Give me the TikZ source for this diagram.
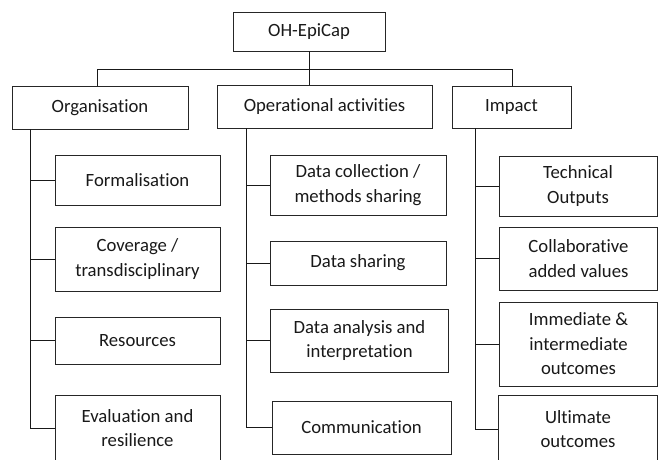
\documentclass[tikz,border=0pt]{standalone}
\usepackage{fontspec}
\setmainfont{Carlito}[Ligatures={NoCommon,NoContextual}]
\begin{document}
\begin{tikzpicture}[x=1pt,y=-1pt,
    box/.style={draw=black!85,line width=0.9pt,fill=white,align=center,inner sep=0pt,
      text=black!90,font=\fontsize{18.7}{24.5}\selectfont},
    link/.style={draw=black!90,line width=0.8pt}]
  \useasboundingbox (0,0) rectangle (659,459);
  \clip (0,0) rectangle (659,459);
  % top and the three headings
  \node[box,minimum width=152,minimum height=39] (top) at (309,31.5) {OH-EpiCap};
  \node[box,minimum width=176,minimum height=43] (org) at (100,107.5) {Organisation};
  \node[box,minimum width=215,minimum height=43] (ops) at (324.5,106.5) {Operational activities};
  \node[box,minimum width=119,minimum height=42] (imp) at (511.5,107) {Impact};
  % Organisation
  \node[box,minimum width=165,minimum height=50] (formal) at (137.5,180) {Formalisation};
  \node[box,minimum width=165,minimum height=64] (cover) at (137.5,259) {Coverage /\\transdisciplinary};
  \node[box,minimum width=165,minimum height=47] (resources) at (137.5,340.5) {Resources};
  \node[box,minimum width=165,minimum height=66] (evalres) at (137.5,428) {Evaluation and\\resilience};
  % Operational activities
  \node[box,minimum width=176,minimum height=60] (collect) at (358,185) {Data collection /\\methods sharing};
  \node[box,minimum width=176,minimum height=44] (sharing) at (358,263) {Data sharing};
  \node[box,minimum width=178,minimum height=63] (analysis) at (359.5,340.5) {Data analysis and\\interpretation};
  \node[box,minimum width=179,minimum height=53] (commun) at (361.5,427.5) {Communication};
  % Impact
  \node[box,minimum width=158,minimum height=60] (tech) at (578,186) {Technical\\Outputs};
  \node[box,minimum width=158,minimum height=63] (collab) at (578.5,258.5) {Collaborative\\added values};
  \node[box,minimum width=158,minimum height=84] (immed) at (578.5,344) {Immediate \&\\intermediate\\outcomes};
  \node[box,minimum width=159,minimum height=68] (ultimate) at (578,429) {Ultimate\\outcomes};

  \coordinate (busl) at (97,69);
  \coordinate (busr) at (512,69);
  \coordinate (orgspine) at ([xshift=19pt]org.south west);
  \coordinate (opsspine) at ([xshift=30pt]ops.south west);
  \coordinate (impspine) at ([xshift=24pt]imp.south west);

  \begin{scope}[link]
    \draw (top.south) -- (top.south |- ops.north);
    \draw (busl |- org.north) -- (busl) -- (busr) -- (busr |- imp.north);
    \draw (orgspine) |- (evalres.west);
    \draw (opsspine) |- (commun.west);
    \draw (impspine) |- (ultimate.west);
    \foreach \n in {formal,cover,resources}
      \draw (\n.west) -- (\n.west -| orgspine);
    \foreach \n in {collect,sharing,analysis}
      \draw (\n.west) -- (\n.west -| opsspine);
    \foreach \n in {tech,collab,immed}
      \draw (\n.west) -- (\n.west -| impspine);
  \end{scope}
\end{tikzpicture}
\end{document}
